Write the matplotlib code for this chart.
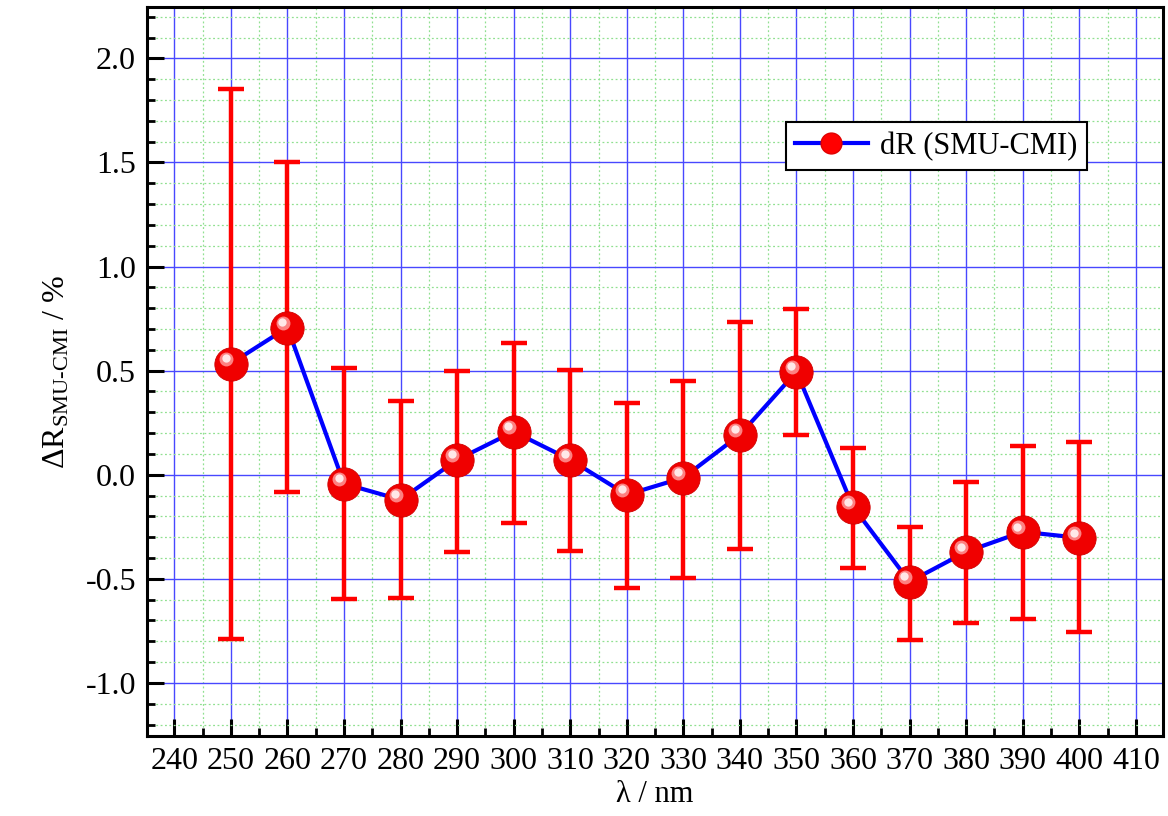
import matplotlib
matplotlib.use("Agg")
import matplotlib.pyplot as plt
import matplotlib.transforms as mtransforms
from matplotlib.ticker import MultipleLocator
from matplotlib.lines import Line2D

wavelength = [250, 260, 270, 280, 290, 300, 310, 320, 330, 340, 350, 360, 370, 380, 390, 400]
dR = [0.534, 0.707, -0.043, -0.12, 0.072, 0.207, 0.072, -0.096, -0.014, 0.192, 0.495, -0.154, -0.514, -0.37, -0.274, -0.303]
err_upper_end = [1.851, 1.50, 0.514, 0.356, 0.50, 0.635, 0.505, 0.346, 0.452, 0.736, 0.798, 0.13, -0.25, -0.034, 0.139, 0.159]
err_lower_end = [-0.788, -0.082, -0.596, -0.591, -0.37, -0.231, -0.365, -0.543, -0.495, -0.356, 0.192, -0.447, -0.793, -0.712, -0.692, -0.755]
xticks = [240, 250, 260, 270, 280, 290, 300, 310, 320, 330, 340, 350, 360, 370, 380, 390, 400, 410]
yticks = [-1.0, -0.5, 0.0, 0.5, 1.0, 1.5, 2.0]

plt.rcParams['font.family'] = ['Liberation Serif', 'DejaVu Serif']
plt.rcParams['mathtext.fontset'] = 'custom'
plt.rcParams['mathtext.rm'] = 'Liberation Serif'
plt.rcParams['mathtext.it'] = 'Liberation Serif:italic'

fig = plt.figure(figsize=(11.68, 8.16), dpi=100)
ax = fig.add_axes([0.126, 0.098, 0.8697, 0.893])

yerr = [[v - lo for v, lo in zip(dR, err_lower_end)],
        [hi - v for v, hi in zip(dR, err_upper_end)]]

ax.errorbar(wavelength, dR, yerr=yerr, fmt='none', ecolor='#ff0000', elinewidth=3.2,
            capsize=9.5, capthick=3.2, zorder=3)
ax.plot(wavelength, dR, color='#0000ff', lw=3.0, zorder=4)
ax.plot(wavelength, dR, 'o', ms=24, mfc='#f00000', mec='#d00000', mew=0.6, zorder=5)
hl = mtransforms.offset_copy(ax.transData, fig=fig, x=-3.5, y=3.5, units='points')
ax.plot(wavelength, dR, 'o', ms=10, mfc='#ff9090', mec='none', alpha=0.9, zorder=6, transform=hl)
hl2 = mtransforms.offset_copy(ax.transData, fig=fig, x=-3.8, y=3.8, units='points')
ax.plot(wavelength, dR, 'o', ms=6, mfc='#ffe8e8', mec='none', zorder=7, transform=hl2)

ax.set_xlim(235.2, 414.8)
ax.set_ylim(-1.255, 2.245)
ax.set_xticks(xticks)
ax.set_yticks(yticks)
ax.set_yticklabels([f"{v:.1f}" for v in yticks])
ax.xaxis.set_minor_locator(MultipleLocator(5))
ax.yaxis.set_minor_locator(MultipleLocator(0.1))

ax.grid(which='major', color='#4848ff', lw=1.0, zorder=1)
ax.grid(which='minor', color='#90e090', lw=0.9, ls=(0, (1.5, 2)), zorder=0)
ax.set_axisbelow(True)

ax.tick_params(which='major', direction='in', length=12, width=2.2, labelsize=23,
               top=False, right=False, pad=8)
ax.tick_params(which='minor', direction='in', length=6, width=2.0, top=False, right=False)
for s in ax.spines.values():
    s.set_linewidth(2.2)

ax.set_xlabel('λ / nm', fontsize=22, labelpad=3)
ax.set_ylabel(r'$\Delta$R$_{\mathrm{SMU\text{-}CMI}}$ / %', fontsize=23, labelpad=10)

handle = Line2D([], [], color='#0000ff', lw=3.0, marker='o', ms=15, mfc='#ff0000', mec='#e00000')
leg = ax.legend([handle], ['dR (SMU-CMI)'], loc='upper right', bbox_to_anchor=(0.925, 0.842),
                fontsize=22, frameon=True, fancybox=False, edgecolor='black',
                handlelength=2.4, handletextpad=0.4, borderpad=0.3, borderaxespad=0,
                framealpha=1)
leg.get_frame().set_linewidth(1.5)

fig.savefig('out.png', dpi=100)
